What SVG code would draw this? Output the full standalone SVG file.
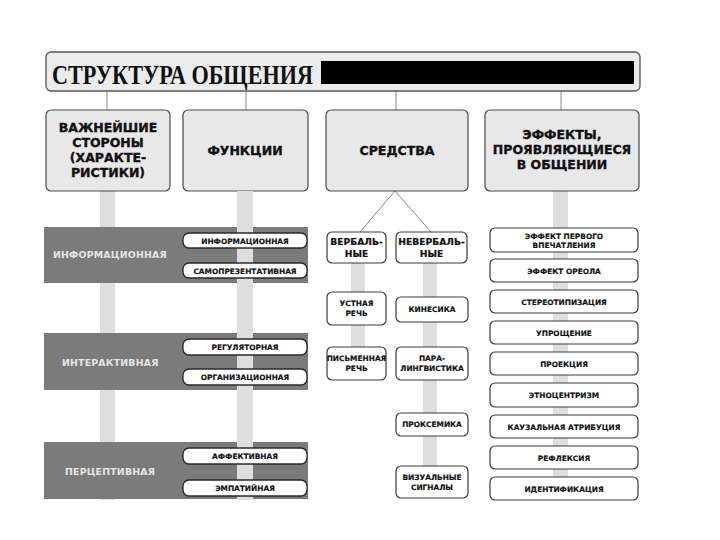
<svg xmlns="http://www.w3.org/2000/svg" width="720" height="540" viewBox="0 0 720 540">
<style>
.box{fill:#e8e8e8;stroke:#4a4a4a;stroke-width:1.2}
.pill{fill:#ffffff;stroke:#2a2a2a;stroke-width:1.3}
.sbox{fill:#ffffff;stroke:#3a3a3a;stroke-width:1.2}
.strip{fill:#dedede}
.band{fill:#7b7b7b}
.conn{stroke:#888;stroke-width:1;fill:none}
.ht{font-family:"DejaVu Sans","Liberation Sans",sans-serif;font-weight:bold;font-size:12.5px;fill:#111;stroke:#111;stroke-width:0.35;text-anchor:middle}
.pt{font-family:"DejaVu Sans","Liberation Sans",sans-serif;font-weight:bold;font-size:7.4px;fill:#111;stroke:#111;stroke-width:0.15;text-anchor:middle}
.st{font-family:"DejaVu Sans","Liberation Sans",sans-serif;font-weight:bold;font-size:9.2px;fill:#111;stroke:#111;stroke-width:0.2;text-anchor:middle}
.bt{font-family:"DejaVu Sans","Liberation Sans",sans-serif;font-weight:bold;font-size:9.4px;fill:#e6e6e6;letter-spacing:0.2px}
</style>
<rect width="720" height="540" fill="#ffffff"/>

<g id="connectors">
<line class="conn" x1="107" y1="91" x2="107" y2="110"/>
<line class="conn" x1="246" y1="91" x2="246" y2="110"/>
<line class="conn" x1="396" y1="91" x2="396" y2="110"/>
<line class="conn" x1="561" y1="91" x2="561" y2="110"/>
<line class="conn" x1="395" y1="191" x2="360" y2="232"/>
<line class="conn" x1="395" y1="191" x2="431" y2="232"/>
<rect class="strip" x="100" y="191" width="15" height="309"/>
<rect class="strip" x="553" y="191" width="15" height="287"/>
<rect class="strip" x="351" y="263" width="14" height="85"/>
<rect class="strip" x="423" y="263" width="14" height="204"/>
</g>

<g id="title">
<rect x="46" y="52" width="594" height="39" rx="5" fill="#ececec" stroke="#555" stroke-width="1.3"/>
<text x="52" y="84" font-family="Liberation Serif,serif" font-weight="bold" font-size="27" textLength="261" lengthAdjust="spacingAndGlyphs" fill="#111">СТРУКТУРА ОБЩЕНИЯ</text>
<rect x="321" y="61" width="313" height="23" fill="#000"/>
</g>

<g id="node-storony">
<rect class="box" x="46" y="110" width="124" height="81" rx="5"/>
<text class="ht" x="108" y="132">ВАЖНЕЙШИЕ</text>
<text class="ht" x="108" y="147">СТОРОНЫ</text>
<text class="ht" x="108" y="162">(ХАРАКТЕ-</text>
<text class="ht" x="108" y="177">РИСТИКИ)</text>
</g>
<g id="node-funkcii">
<rect class="box" x="183" y="110" width="125" height="81" rx="5"/>
<text class="ht" x="245" y="155">ФУНКЦИИ</text>
</g>
<g id="node-sredstva">
<rect class="box" x="326" y="110" width="142" height="81" rx="5"/>
<text class="ht" x="397" y="155">СРЕДСТВА</text>
</g>
<g id="node-effekty">
<rect class="box" x="485" y="110" width="154" height="81" rx="5"/>
<text class="ht" x="562" y="139">ЭФФЕКТЫ,</text>
<text class="ht" x="562" y="154">ПРОЯВЛЯЮЩИЕСЯ</text>
<text class="ht" x="562" y="169">В ОБЩЕНИИ</text>
</g>

<g id="band-1">
<rect class="band" x="44" y="227" width="264" height="56"/>
<text class="bt" x="53" y="258">ИНФОРМАЦИОННАЯ</text>
</g>
<g id="band-2">
<rect class="band" x="44" y="333" width="264" height="57"/>
<text class="bt" x="62" y="366">ИНТЕРАКТИВНАЯ</text>
</g>
<g id="band-3">
<rect class="band" x="44" y="442" width="264" height="57"/>
<text class="bt" x="65" y="475">ПЕРЦЕПТИВНАЯ</text>
</g>
<rect class="strip" x="237" y="191" width="16" height="309"/>

<g id="f1"><rect class="pill" x="183" y="233" width="124" height="15" rx="6"/><text class="pt" x="245" y="243.5">ИНФОРМАЦИОННАЯ</text></g>
<g id="f2"><rect class="pill" x="183" y="263" width="124" height="15" rx="6"/><text class="pt" x="245" y="273.5">САМОПРЕЗЕНТАТИВНАЯ</text></g>
<g id="f3"><rect class="pill" x="183" y="339" width="124" height="16" rx="6"/><text class="pt" x="245" y="349.8">РЕГУЛЯТОРНАЯ</text></g>
<g id="f4"><rect class="pill" x="183" y="369" width="124" height="16" rx="6"/><text class="pt" x="245" y="379.8">ОРГАНИЗАЦИОННАЯ</text></g>
<g id="f5"><rect class="pill" x="183" y="448" width="124" height="16" rx="6"/><text class="pt" x="245" y="458.8">АФФЕКТИВНАЯ</text></g>
<g id="f6"><rect class="pill" x="183" y="480" width="124" height="16" rx="6"/><text class="pt" x="245" y="490.8">ЭМПАТИЙНАЯ</text></g>

<g id="node-verbal">
<rect class="sbox" x="327" y="232" width="59" height="31" rx="5"/>
<text class="st" x="356.5" y="245">ВЕРБАЛЬ-</text>
<text class="st" x="356.5" y="257">НЫЕ</text>
</g>
<g id="node-neverbal">
<rect class="sbox" x="396" y="232" width="71" height="31" rx="5"/>
<text class="st" x="431.5" y="245">НЕВЕРБАЛЬ-</text>
<text class="st" x="431.5" y="257">НЫЕ</text>
</g>
<g id="v1"><rect class="sbox" x="327" y="292" width="59" height="33" rx="5"/><text class="pt" x="356.5" y="306">УСТНАЯ</text><text class="pt" x="356.5" y="316">РЕЧЬ</text></g>
<g id="v2"><rect class="sbox" x="327" y="347" width="59" height="33" rx="5"/><text class="pt" x="356.5" y="361">ПИСЬМЕННАЯ</text><text class="pt" x="356.5" y="371">РЕЧЬ</text></g>
<g id="n1"><rect class="sbox" x="396" y="297" width="72" height="25" rx="5"/><text class="pt" x="432" y="312">КИНЕСИКА</text></g>
<g id="n2"><rect class="sbox" x="396" y="347" width="72" height="33" rx="5"/><text class="pt" x="432" y="361">ПАРА-</text><text class="pt" x="432" y="371">ЛИНГВИСТИКА</text></g>
<g id="n3"><rect class="sbox" x="396" y="413" width="72" height="23" rx="5"/><text class="pt" x="432" y="427">ПРОКСЕМИКА</text></g>
<g id="n4"><rect class="sbox" x="396" y="466" width="72" height="32" rx="5"/><text class="pt" x="432" y="479.5">ВИЗУАЛЬНЫЕ</text><text class="pt" x="432" y="489.5">СИГНАЛЫ</text></g>

<g id="e1"><rect class="sbox" x="490" y="228" width="148" height="24" rx="5"/><text class="pt" x="564" y="238.5">ЭФФЕКТ ПЕРВОГО</text><text class="pt" x="564" y="248">ВПЕЧАТЛЕНИЯ</text></g>
<g id="e2"><rect class="sbox" x="490" y="259" width="148" height="23" rx="5"/><text class="pt" x="564" y="273.5">ЭФФЕКТ ОРЕОЛА</text></g>
<g id="e3"><rect class="sbox" x="490" y="290" width="148" height="23" rx="5"/><text class="pt" x="564" y="304.5">СТЕРЕОТИПИЗАЦИЯ</text></g>
<g id="e4"><rect class="sbox" x="490" y="321" width="148" height="23" rx="5"/><text class="pt" x="564" y="335.5">УПРОЩЕНИЕ</text></g>
<g id="e5"><rect class="sbox" x="490" y="352" width="148" height="23" rx="5"/><text class="pt" x="564" y="366.5">ПРОЕКЦИЯ</text></g>
<g id="e6"><rect class="sbox" x="490" y="383" width="148" height="24" rx="5"/><text class="pt" x="564" y="398">ЭТНОЦЕНТРИЗМ</text></g>
<g id="e7"><rect class="sbox" x="490" y="415" width="148" height="23" rx="5"/><text class="pt" x="564" y="429.5">КАУЗАЛЬНАЯ АТРИБУЦИЯ</text></g>
<g id="e8"><rect class="sbox" x="490" y="446" width="148" height="23" rx="5"/><text class="pt" x="564" y="460.5">РЕФЛЕКСИЯ</text></g>
<g id="e9"><rect class="sbox" x="490" y="477" width="148" height="23" rx="5"/><text class="pt" x="564" y="491.5">ИДЕНТИФИКАЦИЯ</text></g>
</svg>
